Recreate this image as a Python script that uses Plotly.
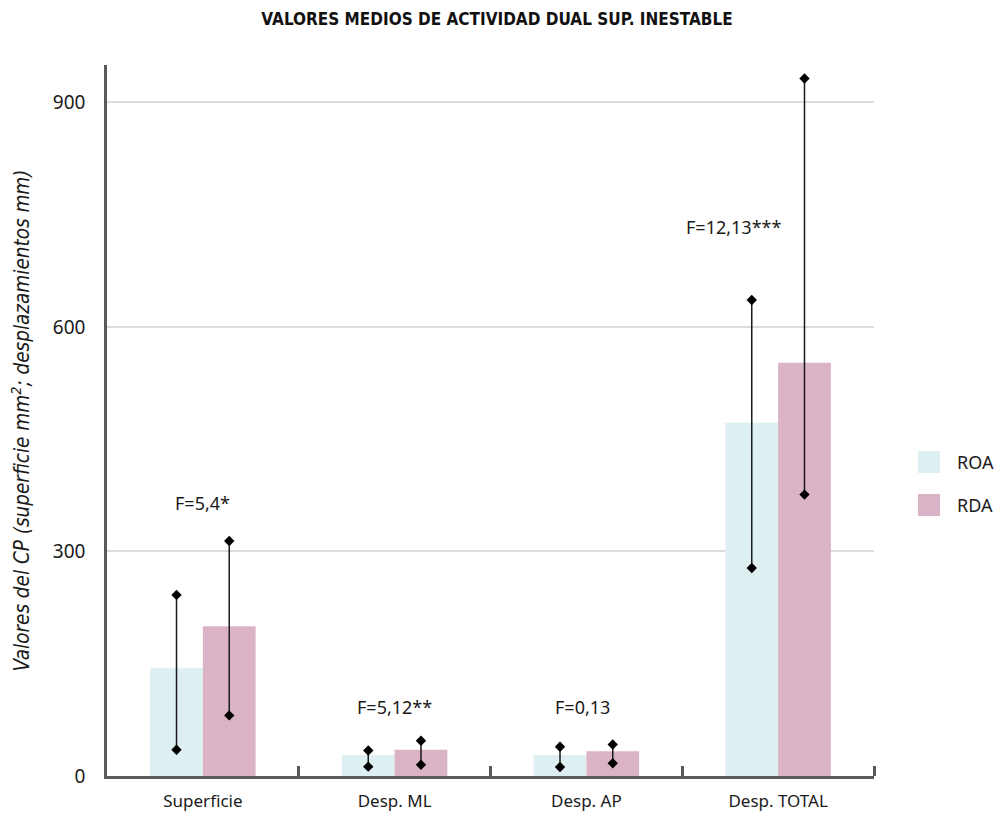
import plotly.graph_objects as go

# Categories and group statistics
categories = ["Superficie", "Desp. ML", "Desp. AP", "Desp. TOTAL"]
series_names = ["ROA", "RDA"]
roa_mean = [144, 28, 28, 472]
roa_high = [242, 34, 39, 636]
roa_low = [35, 12.5, 12, 278]
rda_mean = [200, 35, 33, 552]
rda_high = [314, 47, 42, 932]
rda_low = [81, 15, 17, 376]
f_labels = ["F=5,4*", "F=5,12**", "F=0,13", "F=12,13***"]
y_ticks = [0, 300, 600, 900]

# Styling
colors = ["#ddeff1", "#dbb3c6"]
bar_w = 0.275
label_x = [0.0, 1.0, 1.98, 2.766]
label_y = [365, 92, 92, 734]
font_main = "Noto Sans, Open Sans, sans-serif"
font_narrow = "Liberation Sans Narrow, DejaVu Sans Condensed, Roboto, sans-serif"

fig = go.Figure()
idx = list(range(len(categories)))
offsets = [-bar_w, 0.0]
groups = [(roa_mean, roa_high, roa_low), (rda_mean, rda_high, rda_low)]

for name, color, off, (mean, hi, lo) in zip(series_names, colors, offsets, groups):
    fig.add_trace(go.Bar(
        x=idx, y=mean, name=name, width=bar_w, offset=off,
        marker=dict(color=color, line=dict(width=0)),
        showlegend=False,
    ))

for name, off, (mean, hi, lo) in zip(series_names, offsets, groups):
    xs, ys = [], []
    for i in idx:
        xc = i + off + bar_w / 2
        xs += [xc, xc, None]
        ys += [lo[i], hi[i], None]
    fig.add_trace(go.Scatter(
        x=xs, y=ys, mode="lines+markers", showlegend=False,
        line=dict(color="#1a1a1a", width=1.5),
        marker=dict(symbol="diamond", size=8, color="#000000"),
        hoverinfo="skip",
    ))

for i, txt in enumerate(f_labels):
    fig.add_annotation(
        x=label_x[i], y=label_y[i], text=txt, showarrow=False,
        xanchor="center", yanchor="middle",
        font=dict(family=font_main, size=18, color="#1a1a1a"),
    )

# Legend drawn as swatches beside the plot
leg_y = [(0.4571, 0.4262), (0.3966, 0.3657)]
for name, color, (ya, yb) in zip(series_names, colors, leg_y):
    fig.add_shape(type="rect", xref="paper", yref="paper",
                  x0=1.0574, x1=1.0861, y0=yb, y1=ya,
                  fillcolor=color, line=dict(width=0))
    fig.add_annotation(xref="paper", yref="paper", x=1.1056, y=(ya + yb) / 2,
                       text=name, showarrow=False, xanchor="left", yanchor="middle",
                       font=dict(family=font_main, size=18, color="#1a1a1a"))

fig.update_layout(
    width=994, height=813,
    margin=dict(l=107, r=120, t=65, b=37),
    paper_bgcolor="white", plot_bgcolor="white",
    title=dict(
        text="<b>VALORES MEDIOS DE ACTIVIDAD DUAL SUP. INESTABLE</b>",
        x=0.5, xanchor="center", y=1 - 19 / 813, yanchor="middle",
        font=dict(family=font_narrow, size=17, color="#111111"),
    ),
    xaxis=dict(
        range=[-0.5, 3.5], tickvals=idx, ticktext=categories,
        ticks="", showgrid=False, zeroline=False, automargin=False,
        showline=True, linecolor="#5a5a5a", linewidth=2.5,
        tickfont=dict(family=font_main, size=17, color="#1a1a1a"),
        ticklabelstandoff=8,
        minor=dict(tickvals=[0.5, 1.5, 2.5, 3.5], ticks="inside",
                   ticklen=10, tickwidth=2.5, tickcolor="#5a5a5a", showgrid=False),
    ),
    yaxis=dict(
        range=[0, 950], tickvals=y_ticks, ticks="", automargin=False,
        showgrid=True, gridcolor="#dcdcdc", gridwidth=2,
        zeroline=False, showline=True, linecolor="#5a5a5a", linewidth=2.5,
        tickfont=dict(family=font_main, size=19, color="#1a1a1a"),
        ticklabelstandoff=15,
        title=dict(
            text="<i>Valores del CP (superficie mm<sup>2</sup>; desplazamientos mm)</i>",
            font=dict(family=font_narrow, size=20.5, color="#1a1a1a"),
            standoff=18,
        ),
    ),
)

fig.write_html("out.html")
